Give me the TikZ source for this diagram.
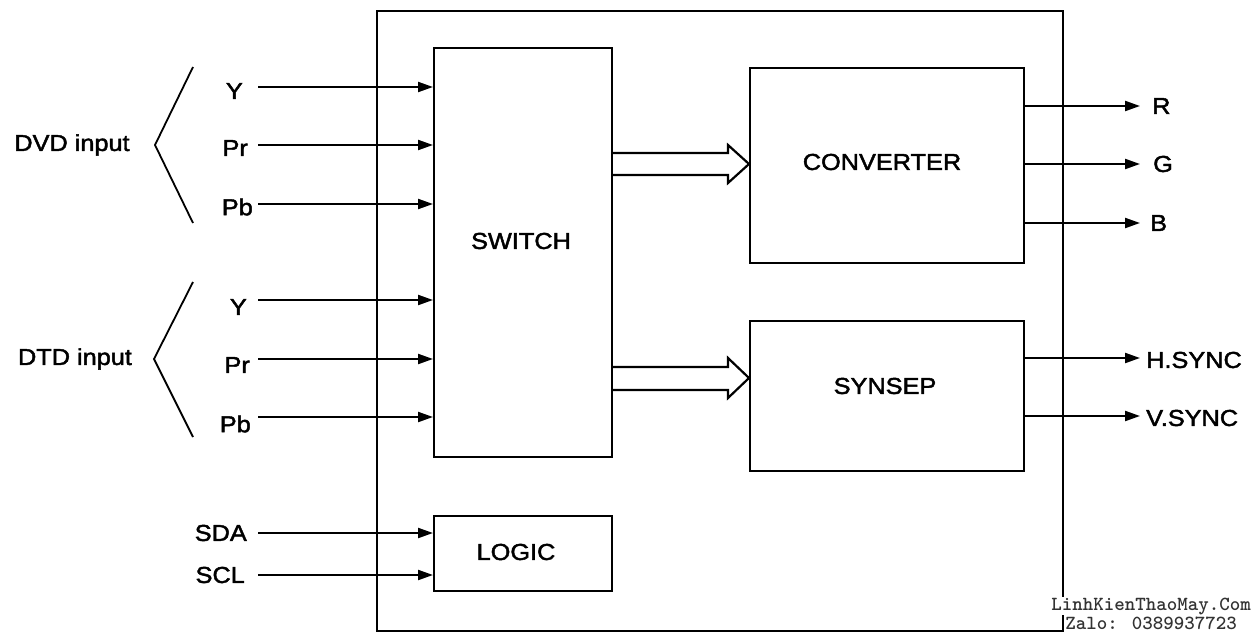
\documentclass[tikz,border=0pt]{standalone}
\usepackage{fontspec}
\setmainfont{Liberation Sans}[FakeStretch=1.1,FakeBold=2]
\usetikzlibrary{arrows.meta}
\tikzset{
  blk/.style={draw, line width=2.2pt, inner sep=0pt, anchor=north west},
  arr/.style={line width=2.2pt, -{Triangle[length=15pt,width=10pt]}},
  plain/.style={line width=1.8pt},
  lbl/.style={inner sep=0pt, font=\fontsize{23}{26}\selectfont},
  hollow/.style={draw, line width=2.2pt, fill=white, line join=miter},
  wm/.style={inner sep=0.5pt, fill=white, text=black!80, font=\ttfamily\bfseries\fontsize{20}{20}\selectfont},
}
\begin{document}
\begin{tikzpicture}[x=1pt,y=-1pt]
\useasboundingbox (0,0) rectangle (1260,634);
% outer box
\node[blk, minimum width=686pt, minimum height=620pt] (outer) at (376,10) {};
% inner blocks
\node[blk, minimum width=178pt, minimum height=409pt] (sw) at (433,47) {};
\node[lbl] (swt) at (521,241) {SWITCH};
\node[blk, minimum width=274pt, minimum height=195pt] (conv) at (749,67) {};
\node[lbl] (convt) at (882,162) {CONVERTER};
\node[blk, minimum width=274pt, minimum height=150pt] (syn) at (749,320) {};
\node[lbl] (synt) at (885,386) {SYNSEP};
\node[blk, minimum width=178pt, minimum height=75pt] (logic) at (433,515) {};
\node[lbl] (logict) at (516,552) {LOGIC};

% DVD inputs
\node[lbl] (dvd) at (72,145) {DVD input};
\coordinate (dvdA) at (193,67);
\coordinate (dvdB) at (155,145);
\coordinate (dvdC) at (193,223);
\draw[plain] (dvdA) -- (dvdB) -- (dvdC);
\node[lbl, anchor=east] (ly1) at (243,91) {Y};
\node[lbl, anchor=east] (lpr1) at (248,148) {Pr};
\node[lbl, anchor=east] (lpb1) at (253,207) {Pb};
\coordinate (iy1) at (258,87);
\coordinate (ipr1) at (258,145);
\coordinate (ipb1) at (258,204);
\draw[arr] (iy1) -- (sw.west |- iy1);
\draw[arr] (ipr1) -- (sw.west |- ipr1);
\draw[arr] (ipb1) -- (sw.west |- ipb1);

% DTD inputs
\node[lbl] (dtd) at (75,359) {DTD input};
\coordinate (dtdA) at (193,282);
\coordinate (dtdB) at (154,359);
\coordinate (dtdC) at (193,437);
\draw[plain] (dtdA) -- (dtdB) -- (dtdC);
\node[lbl, anchor=east] (ly2) at (247,307) {Y};
\node[lbl, anchor=east] (lpr2) at (250,365) {Pr};
\node[lbl, anchor=east] (lpb2) at (251,424) {Pb};
\coordinate (iy2) at (258,300);
\coordinate (ipr2) at (258,359);
\coordinate (ipb2) at (258,417);
\draw[arr] (iy2) -- (sw.west |- iy2);
\draw[arr] (ipr2) -- (sw.west |- ipr2);
\draw[arr] (ipb2) -- (sw.west |- ipb2);

% SDA / SCL
\node[lbl, anchor=east] (lsda) at (247,533) {SDA};
\node[lbl, anchor=east] (lscl) at (245,575) {SCL};
\coordinate (isda) at (258,533);
\coordinate (iscl) at (258,575);
\draw[arr] (isda) -- (logic.west |- isda);
\draw[arr] (iscl) -- (logic.west |- iscl);

% hollow arrows
\draw[hollow] (sw.east |- 0,153) -- (728,153) -- (728,145) -- (conv.west |- 0,164) -- (728,183) -- (728,175) -- (sw.east |- 0,175);
\draw[hollow] (sw.east |- 0,367) -- (728,367) -- (728,358) -- (syn.west |- 0,378) -- (728,398) -- (728,390) -- (sw.east |- 0,390);

% outputs
\coordinate (oR) at (1140,106);
\coordinate (oG) at (1140,164);
\coordinate (oB) at (1140,223);
\coordinate (oH) at (1140,358);
\coordinate (oV) at (1140,416);
\draw[arr] (conv.east |- oR) -- (oR);
\draw[arr] (conv.east |- oG) -- (oG);
\draw[arr] (conv.east |- oB) -- (oB);
\draw[arr] (syn.east |- oH) -- (oH);
\draw[arr] (syn.east |- oV) -- (oV);
\node[lbl, anchor=west] (lR) at (1152,106) {R};
\node[lbl, anchor=west] (lG) at (1153,164) {G};
\node[lbl, anchor=west] (lB) at (1150,223) {B};
\node[lbl, anchor=west] (lH) at (1146,360) {H.SYNC};
\node[lbl, anchor=west] (lV) at (1146,418) {V.SYNC};

% watermark
\node[wm] (wm1) at (1151,606) {LinhKienThaoMay.Com};
\node[wm] (wm2) at (1151,623) {Zalo: 0389937723};
\end{tikzpicture}
\end{document}
